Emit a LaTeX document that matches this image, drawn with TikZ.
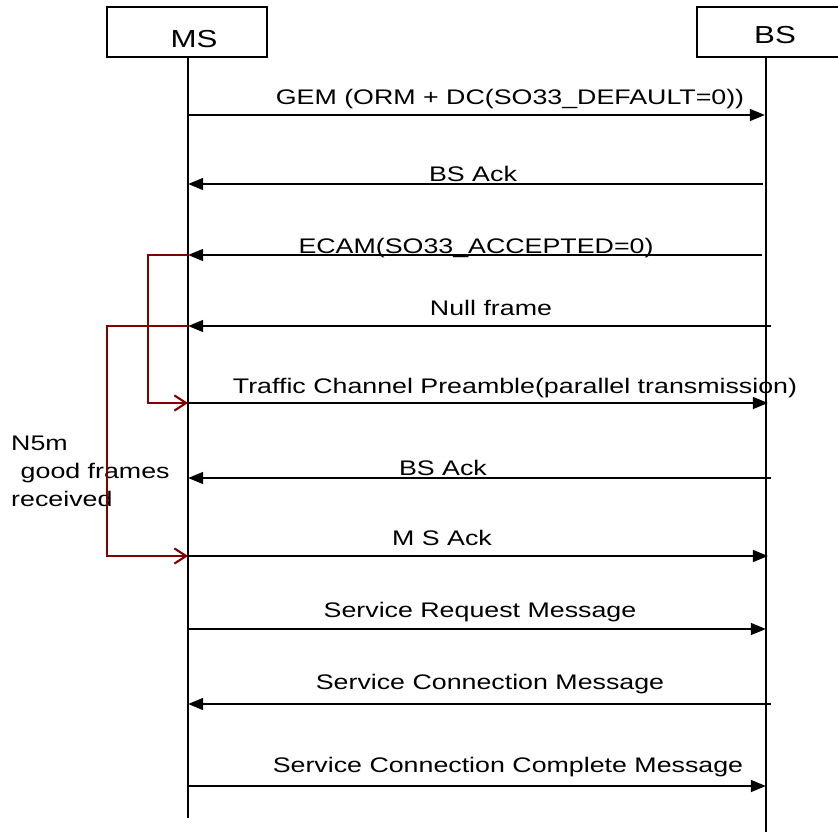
\documentclass[tikz,border=0pt]{standalone}
\usepackage{fontspec}
\setmainfont{Liberation Sans}[FakeStretch=1.27]
\usepackage{xcolor}
\usetikzlibrary{arrows.meta, positioning}

\definecolor{timerred}{RGB}{128,0,0}

\tikzset{
  entity/.style={draw, line width=1.9pt, minimum width=4.8cm, minimum height=1.5cm},
  entitylabel/.style={anchor=base, inner sep=0pt, font=\fontsize{21}{25}\selectfont},
  lifeline/.style={line width=2.2pt},
  msg/.style={line width=2.2pt, -{Triangle[length=13pt,width=10pt]}},
  msglabel/.style={anchor=base, inner sep=0pt, font=\fontsize{18}{21}\selectfont},
  timer/.style={line width=1.8pt, draw=timerred, -{Straight Barb[length=10pt,width=13pt]}},
  note/.style={anchor=north west, align=left, inner sep=0pt, font=\fontsize{18}{24}\selectfont},
}

\begin{document}
\begin{tikzpicture}[x=0.03cm, y=-0.03cm]
  \useasboundingbox (0,0) rectangle (837,840);

  % entities
  \node[entity] (ms) at (187,32) {};
  \node[entitylabel] (mstext) at (194,47) {MS};
  \node[entity] (bs) at (777,32) {};
  \node[entitylabel] (bstext) at (775,43) {BS};

  % lifelines
  \coordinate (msend) at (188,818);
  \coordinate (bsend) at (766,832);
  \draw[lifeline] (msend |- ms.south) -- (msend);
  \draw[lifeline] (bsend |- bs.south) -- (bsend);

  % messages
  \coordinate (gemA) at (188,115);  \coordinate (gemB) at (765,115);
  \draw[msg] (gemA) -- (gemB);
  \node[msglabel] (gem) at (510,104) {GEM (ORM + DC(SO33\_DEFAULT=0))};

  \coordinate (ackA) at (188,184);  \coordinate (ackB) at (763,184);
  \draw[msg] (ackB) -- (ackA);
  \node[msglabel] (bsack) at (473,181) {BS Ack};

  \coordinate (ecamA) at (188,255);  \coordinate (ecamB) at (762,255);
  \draw[msg] (ecamB) -- (ecamA);
  \node[msglabel] (ecam) at (476,253) {ECAM(SO33\_ACCEPTED=0)};

  \coordinate (nullA) at (188,326);  \coordinate (nullB) at (771,326);
  \draw[msg] (nullB) -- (nullA);
  \node[msglabel] (null) at (491,315) {Null frame};

  \coordinate (trafA) at (188,403);  \coordinate (trafB) at (768,403);
  \draw[msg] (trafA) -- (trafB);
  \node[msglabel] (traf) at (515,393) {Traffic Channel Preamble(parallel transmission)};

  \coordinate (ack2A) at (188,478);  \coordinate (ack2B) at (771,478);
  \draw[msg] (ack2B) -- (ack2A);
  \node[msglabel] (bsack2) at (443,475) {BS Ack};

  \coordinate (msackA) at (188,556);  \coordinate (msackB) at (768,556);
  \draw[msg] (msackA) -- (msackB);
  \node[msglabel] (msack) at (442,545) {M S Ack};

  \coordinate (srqA) at (188,629);  \coordinate (srqB) at (766,629);
  \draw[msg] (srqA) -- (srqB);
  \node[msglabel] (srq) at (480,617) {Service Request Message};

  \coordinate (scmA) at (188,704);  \coordinate (scmB) at (771,704);
  \draw[msg] (scmB) -- (scmA);
  \node[msglabel] (scm) at (490,689) {Service Connection Message};

  \coordinate (sccA) at (188,786);  \coordinate (sccB) at (766,786);
  \draw[msg] (sccA) -- (sccB);
  \node[msglabel] (scc) at (508,772) {Service Connection Complete Message};

  % timers
  \node[note] (goodframes) at (11,436) {N5m\\\hspace*{0.45em}good frames\\received};
  \coordinate (tmrA) at (148,0);
  \coordinate (tmrB) at (107,0);
  \draw[timer] (ecamA) -- (ecamA -| tmrA) |- (trafA);
  \draw[timer] (nullA) -- (nullA -| tmrB) |- (msackA);

\end{tikzpicture}
\end{document}
